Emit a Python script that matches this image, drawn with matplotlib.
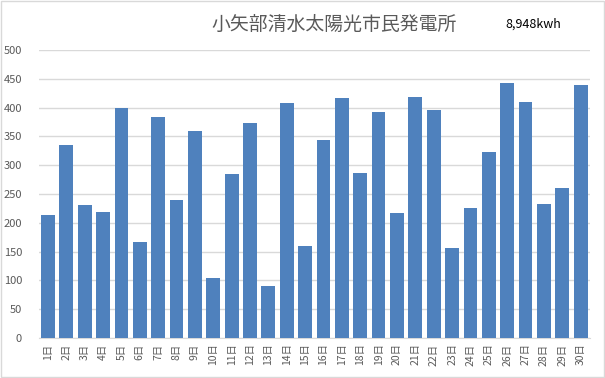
import matplotlib.pyplot as plt
from matplotlib.patches import Rectangle

plt.rcParams['font.family'] = ['Noto Sans CJK JP', 'DejaVu Sans']

days = [f"{d}日" for d in range(1, 31)]
kwh = [214, 335, 231, 219, 400, 167, 383, 240, 359, 104,
       284, 373, 90, 408, 160, 343, 416, 287, 392, 217,
       418, 395, 156, 226, 322, 442, 409, 233, 261, 439]
title = "小矢部清水太陽光市民発電所"
total_label = "8,948kwh"

fig = plt.figure(figsize=(6.05, 3.78), dpi=100)
ax = fig.add_axes([0.064, 0.106, 0.911, 0.762])

ax.bar(range(len(days)), kwh, width=0.75, color="#4F81BD", zorder=3)

ax.set_xlim(-0.5, len(days) - 0.5)
ax.set_ylim(0, 500)
ax.set_yticks(range(0, 501, 50))
ax.set_xticks(range(len(days)))
ax.set_xticklabels(days, rotation=90, fontsize=7.5, color="#595959")
ax.tick_params(axis="y", labelsize=8, colors="#595959", length=0, pad=12)
ax.tick_params(axis="x", length=0, pad=4)
ax.grid(axis="y", color="#D9D9D9", linewidth=1, zorder=0)
for s in ["top", "right", "left"]:
    ax.spines[s].set_visible(False)
ax.spines["bottom"].set_color("#D9D9D9")

fig.text(0.553, 0.935, title, ha="center", va="center",
         fontsize=13.6, color="#595959")
fig.text(0.835, 0.935, total_label, ha="left", va="center",
         fontsize=9, color="black")

fig.patches.append(Rectangle((0.001, 0.002), 0.997, 0.995, transform=fig.transFigure,
                             fill=False, edgecolor="#D9D9D9", linewidth=1))

fig.savefig("out.png", dpi=100)
